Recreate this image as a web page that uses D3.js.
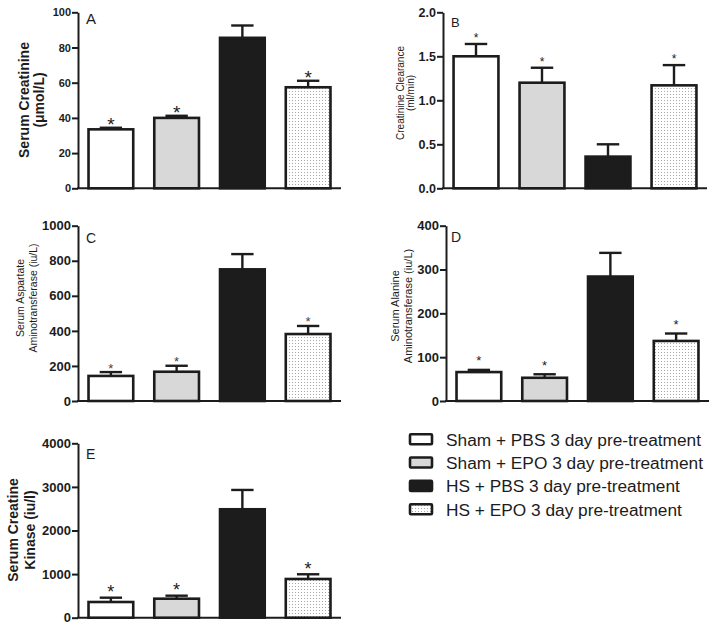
<!DOCTYPE html>
<html><head><meta charset="utf-8">
<script src="https://cdn.jsdelivr.net/npm/d3@7"></script>
<style>body{margin:0;background:#fff}svg{display:block}text{font-family:Arial,"Liberation Sans",sans-serif}</style>
</head><body>
<svg id="chart" width="714" height="630"></svg>
<script>
const groups = ["Sham + PBS 3 day pre-treatment","Sham + EPO 3 day pre-treatment","HS + PBS 3 day pre-treatment","HS + EPO 3 day pre-treatment"];
const fills = ["#ffffff","#d8d8d8","#1c1c1c","url(#dots)"];
const significant = [true,true,false,true];

const creatinine = [33.5, 40.0, 85.5, 57.4];
const creatinineErr = [0.9, 1.2, 7.0, 3.7];
const clearance = [1.50, 1.20, 0.36, 1.17];
const clearanceErr = [0.14, 0.17, 0.14, 0.23];
const ast = [143, 167, 751, 382];
const astErr = [22, 34, 87, 46];
const alt = [66, 53, 284, 137];
const altErr = [5, 8, 54, 17];
const ck = [360, 436, 2487, 888];
const ckErr = [99, 69, 443, 108];

const ticksA = [0,20,40,60,80,100];
const ticksB = [0,0.5,1.0,1.5,2.0];
const ticksC = [0,200,400,600,800,1000];
const ticksD = [0,100,200,300,400];
const ticksE = [0,1000,2000,3000,4000];

const svg = d3.select("#chart");
const defs = svg.append("defs");
const pat = defs.append("pattern").attr("id","dots").attr("patternUnits","userSpaceOnUse")
  .attr("width",3).attr("height",3);
pat.append("rect").attr("width",3).attr("height",3).attr("fill","#fff");
pat.append("rect").attr("x",1).attr("y",1).attr("width",1).attr("height",1).attr("fill","#a8a8a8");

const ink = "#1c1c1c";

function panel(p){
  const g = svg.append("g");
  const y = d3.scaleLinear().domain([0, p.ticks[p.ticks.length-1]]).range([p.yBot, p.yTop]);
  const x = d3.scaleBand().domain(groups).range([p.axisX, p.xEnd]).paddingInner(0.32).paddingOuter(0.16);
  const ax = g.append("g").attr("transform",`translate(${p.axisX},0)`)
    .call(d3.axisLeft(y).tickValues(p.ticks).tickSize(6).tickPadding(1).tickSizeOuter(0).tickFormat(p.fmt));
  ax.select(".domain").attr("stroke",ink).attr("stroke-width",2);
  ax.selectAll(".tick line").attr("stroke",ink).attr("stroke-width",2);
  ax.selectAll(".tick text").attr("fill",ink).attr("font-weight","bold").attr("font-size",p.tickFs)
    .attr("font-family",'Arial,"Liberation Sans",sans-serif');
  g.append("line").attr("x1",p.axisX-1).attr("x2",p.xEnd).attr("y1",y(0)).attr("y2",y(0))
    .attr("stroke",ink).attr("stroke-width",2);
  const bw = x.bandwidth();
  p.vals.forEach((v,i)=>{
    const cx = x(groups[i]) + bw/2;
    const top = y(v + p.errs[i]);
    g.append("line").attr("x1",cx).attr("x2",cx).attr("y1",y(v)).attr("y2",top).attr("stroke",ink).attr("stroke-width",2.4);
    g.append("line").attr("x1",cx-bw/4).attr("x2",cx+bw/4).attr("y1",top).attr("y2",top).attr("stroke",ink).attr("stroke-width",2.4);
    if(significant[i]){
      g.append("text").attr("x",cx).attr("y",top - p.starGap + p.starFs*0.42)
        .attr("text-anchor","middle").attr("font-size",p.starFs).attr("font-weight",p.starBold?"bold":"normal")
        .attr("fill",p.starColor||ink).text("*");
    }
  });
  g.selectAll("rect.bar").data(p.vals).join("rect").attr("class","bar")
    .attr("x",(d,i)=>x(groups[i])).attr("width",bw)
    .attr("y",d=>y(d)).attr("height",d=>y(0)-y(d))
    .attr("fill",(d,i)=>fills[i]).attr("stroke",ink).attr("stroke-width",2.6);
  g.append("text").attr("x",p.letterX).attr("y",p.letterY).attr("font-size",p.letterFs).attr("fill",ink).text(p.letter);
  p.title.forEach((t,j)=>{
    g.append("text").attr("transform",`translate(${p.titleX[j]},${p.titleY}) rotate(-90)`)
      .attr("text-anchor","middle").attr("dominant-baseline","central")
      .attr("font-size",p.titleFs).attr("font-weight",p.titleBold?"bold":"normal").attr("fill",ink).text(t);
  });
}

panel({vals:creatinine, errs:creatinineErr, ticks:ticksA, fmt:d3.format("d"), axisX:78, xEnd:341, yTop:12.3, yBot:188.3,
  tickFs:11, starFs:19, starBold:false, starGap:5, letter:"A", letterX:86, letterY:24, letterFs:15,
  title:["Serum Creatinine","(\u03bcmol/L)"], titleX:[24,39], titleY:100, titleFs:14, titleBold:true});
panel({vals:clearance, errs:clearanceErr, ticks:ticksB, fmt:d3.format(".1f"), axisX:443, xEnd:707, yTop:12.3, yBot:188.3,
  tickFs:12.5, starFs:12, starBold:false, starGap:7, letter:"B", letterX:451, letterY:27, letterFs:13,
  title:["Creatinine Clearance","(ml/min)"], titleX:[400,410], titleY:93, titleFs:10, titleBold:false});
panel({vals:ast, errs:astErr, ticks:ticksC, fmt:d3.format("d"), axisX:78, xEnd:341, yTop:225.7, yBot:401,
  tickFs:13, starFs:13, starBold:false, starGap:5, starColor:"#444", letter:"C", letterX:86, letterY:243, letterFs:14,
  title:["Serum Aspartate","Aminotransferase (iu/L)"], titleX:[20,33], titleY:298, titleFs:10.5, titleBold:false});
panel({vals:alt, errs:altErr, ticks:ticksD, fmt:d3.format("d"), axisX:446, xEnd:709, yTop:225.7, yBot:401,
  tickFs:13, starFs:13, starBold:false, starGap:10, letter:"D", letterX:451, letterY:242, letterFs:14,
  title:["Serum Alanine","Aminotransferase (iu/L)"], titleX:[395,407.5], titleY:306, titleFs:11, titleBold:false});
panel({vals:ck, errs:ckErr, ticks:ticksE, fmt:d3.format("d"), axisX:78, xEnd:341, yTop:443.3, yBot:617.7,
  tickFs:13, starFs:18, starBold:false, starGap:7, letter:"E", letterX:86, letterY:459, letterFs:14,
  title:["Serum Creatine","Kinase (iu/l)"], titleX:[13,30], titleY:530, titleFs:14, titleBold:true});

const leg = svg.append("g");
groups.forEach((gname,i)=>{
  const base = 445.7 + i*23.35;
  leg.append("rect").attr("x",410).attr("y",base-11.5).attr("width",22).attr("height",10)
    .attr("fill",fills[i]).attr("stroke",ink).attr("stroke-width",2.6).attr("rx",1);
  leg.append("text").attr("x",446).attr("y",base).attr("font-size",17.3).attr("fill",ink).text(gname);
});
</script>
</body></html>
